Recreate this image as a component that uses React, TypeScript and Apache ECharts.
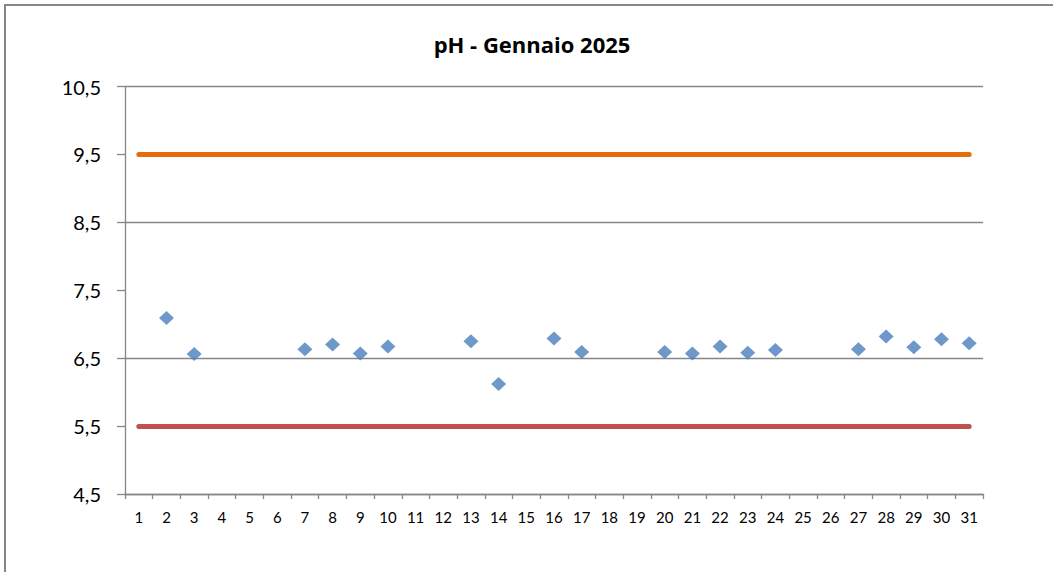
import React, { useEffect, useRef } from "react";
import * as echarts from "echarts";

const days: string[] = [
  "1", "2", "3", "4", "5", "6", "7", "8", "9", "10",
  "11", "12", "13", "14", "15", "16", "17", "18", "19", "20",
  "21", "22", "23", "24", "25", "26", "27", "28", "29", "30", "31",
];

const phValues: (number | null)[] = [
  null, 7.09, 6.56, null, null, null, 6.63, 6.70, 6.57, 6.67,
  null, null, 6.75, 6.12, null, 6.79, 6.59, null, null, 6.59,
  6.57, 6.67, 6.58, 6.62, null, null, 6.63, 6.82, 6.66, 6.78, 6.72,
];

const yTickLabels: number[] = [4.5, 5.5, 6.5, 7.5, 8.5, 9.5, 10.5];

const upperLimit = 9.5;
const lowerLimit = 5.5;

const title = "pH - Gennaio 2025";

const FONT = "Lato";
const GRAY = "#868686";

export default function App() {
  const ref = useRef<HTMLDivElement>(null);

  useEffect(() => {
    if (!ref.current) return;
    const chart = echarts.init(ref.current, undefined, { renderer: "svg" });
    const fmt = (v: number) => v.toFixed(1).replace(".", ",");
    chart.setOption({
      animation: false,
      backgroundColor: "#ffffff",
      graphic: [
        {
          type: "rect",
          shape: { x: 5, y: 5, width: 2000, height: 2000 },
          style: { fill: "none", stroke: GRAY, lineWidth: 2 },
          silent: true,
        },
        {
          type: "text",
          x: 532,
          y: 44,
          style: {
            text: title,
            fontFamily: "Open Sans",
            fontWeight: "bold",
            fontSize: 22,
            fill: "#000000",
            textAlign: "center",
            textVerticalAlign: "middle",
          },
        },
      ],
      grid: { left: 125, right: 70, top: 86.5, bottom: 78, containLabel: false },
      xAxis: {
        type: "category",
        data: days,
        boundaryGap: true,
        axisLine: { show: true, lineStyle: { color: GRAY, width: 1.3 } },
        axisTick: { show: true, length: 5, lineStyle: { color: GRAY, width: 1.3 } },
        axisLabel: {
          interval: 0,
          margin: 15,
          color: "#000000",
          fontFamily: FONT,
          fontSize: 15,
        },
        splitLine: { show: false },
      },
      yAxis: {
        type: "value",
        min: 4.5,
        max: 10.5,
        interval: 0.5,
        axisLine: { show: true, lineStyle: { color: GRAY, width: 1.3 } },
        axisTick: {
          show: true,
          length: 8,
          customValues: yTickLabels,
          lineStyle: { color: GRAY, width: 1.3 },
        },
        axisLabel: {
          customValues: yTickLabels,
          margin: 24,
          color: "#000000",
          fontFamily: FONT,
          fontSize: 20,
          formatter: (v: number) =>
            Math.abs(v - Math.floor(v) - 0.5) < 1e-6 ? fmt(v) : "",
        },
        splitLine: {
          show: true,
          lineStyle: { color: [GRAY, "rgba(0,0,0,0)"], width: 1.3 },
        },
      },
      series: [
        {
          type: "scatter",
          data: phValues.map((v) => (v === null ? "-" : v)),
          symbol: "diamond",
          symbolSize: [15, 14],
          itemStyle: { color: "#4A7EBB" },
          z: 5,
          markLine: {
            silent: true,
            symbol: ["none", "none"],
            label: { show: false },
            lineStyle: { type: "solid", width: 5, cap: "round" },
            data: [
              [
                { coord: [days[0], upperLimit], lineStyle: { color: "#E46C0A", type: "solid", width: 5, cap: "round" } },
                { coord: [days[days.length - 1], upperLimit] },
              ],
              [
                { coord: [days[0], lowerLimit], lineStyle: { color: "#C0504D", type: "solid", width: 5, cap: "round" } },
                { coord: [days[days.length - 1], lowerLimit] },
              ],
            ],
          },
        },
      ],
    });
    return () => chart.dispose();
  }, []);

  return (
    <div
      ref={ref}
      style={{ position: "fixed", left: 0, top: 0, width: 1053, height: 572, background: "#fff" }}
    />
  );
}
